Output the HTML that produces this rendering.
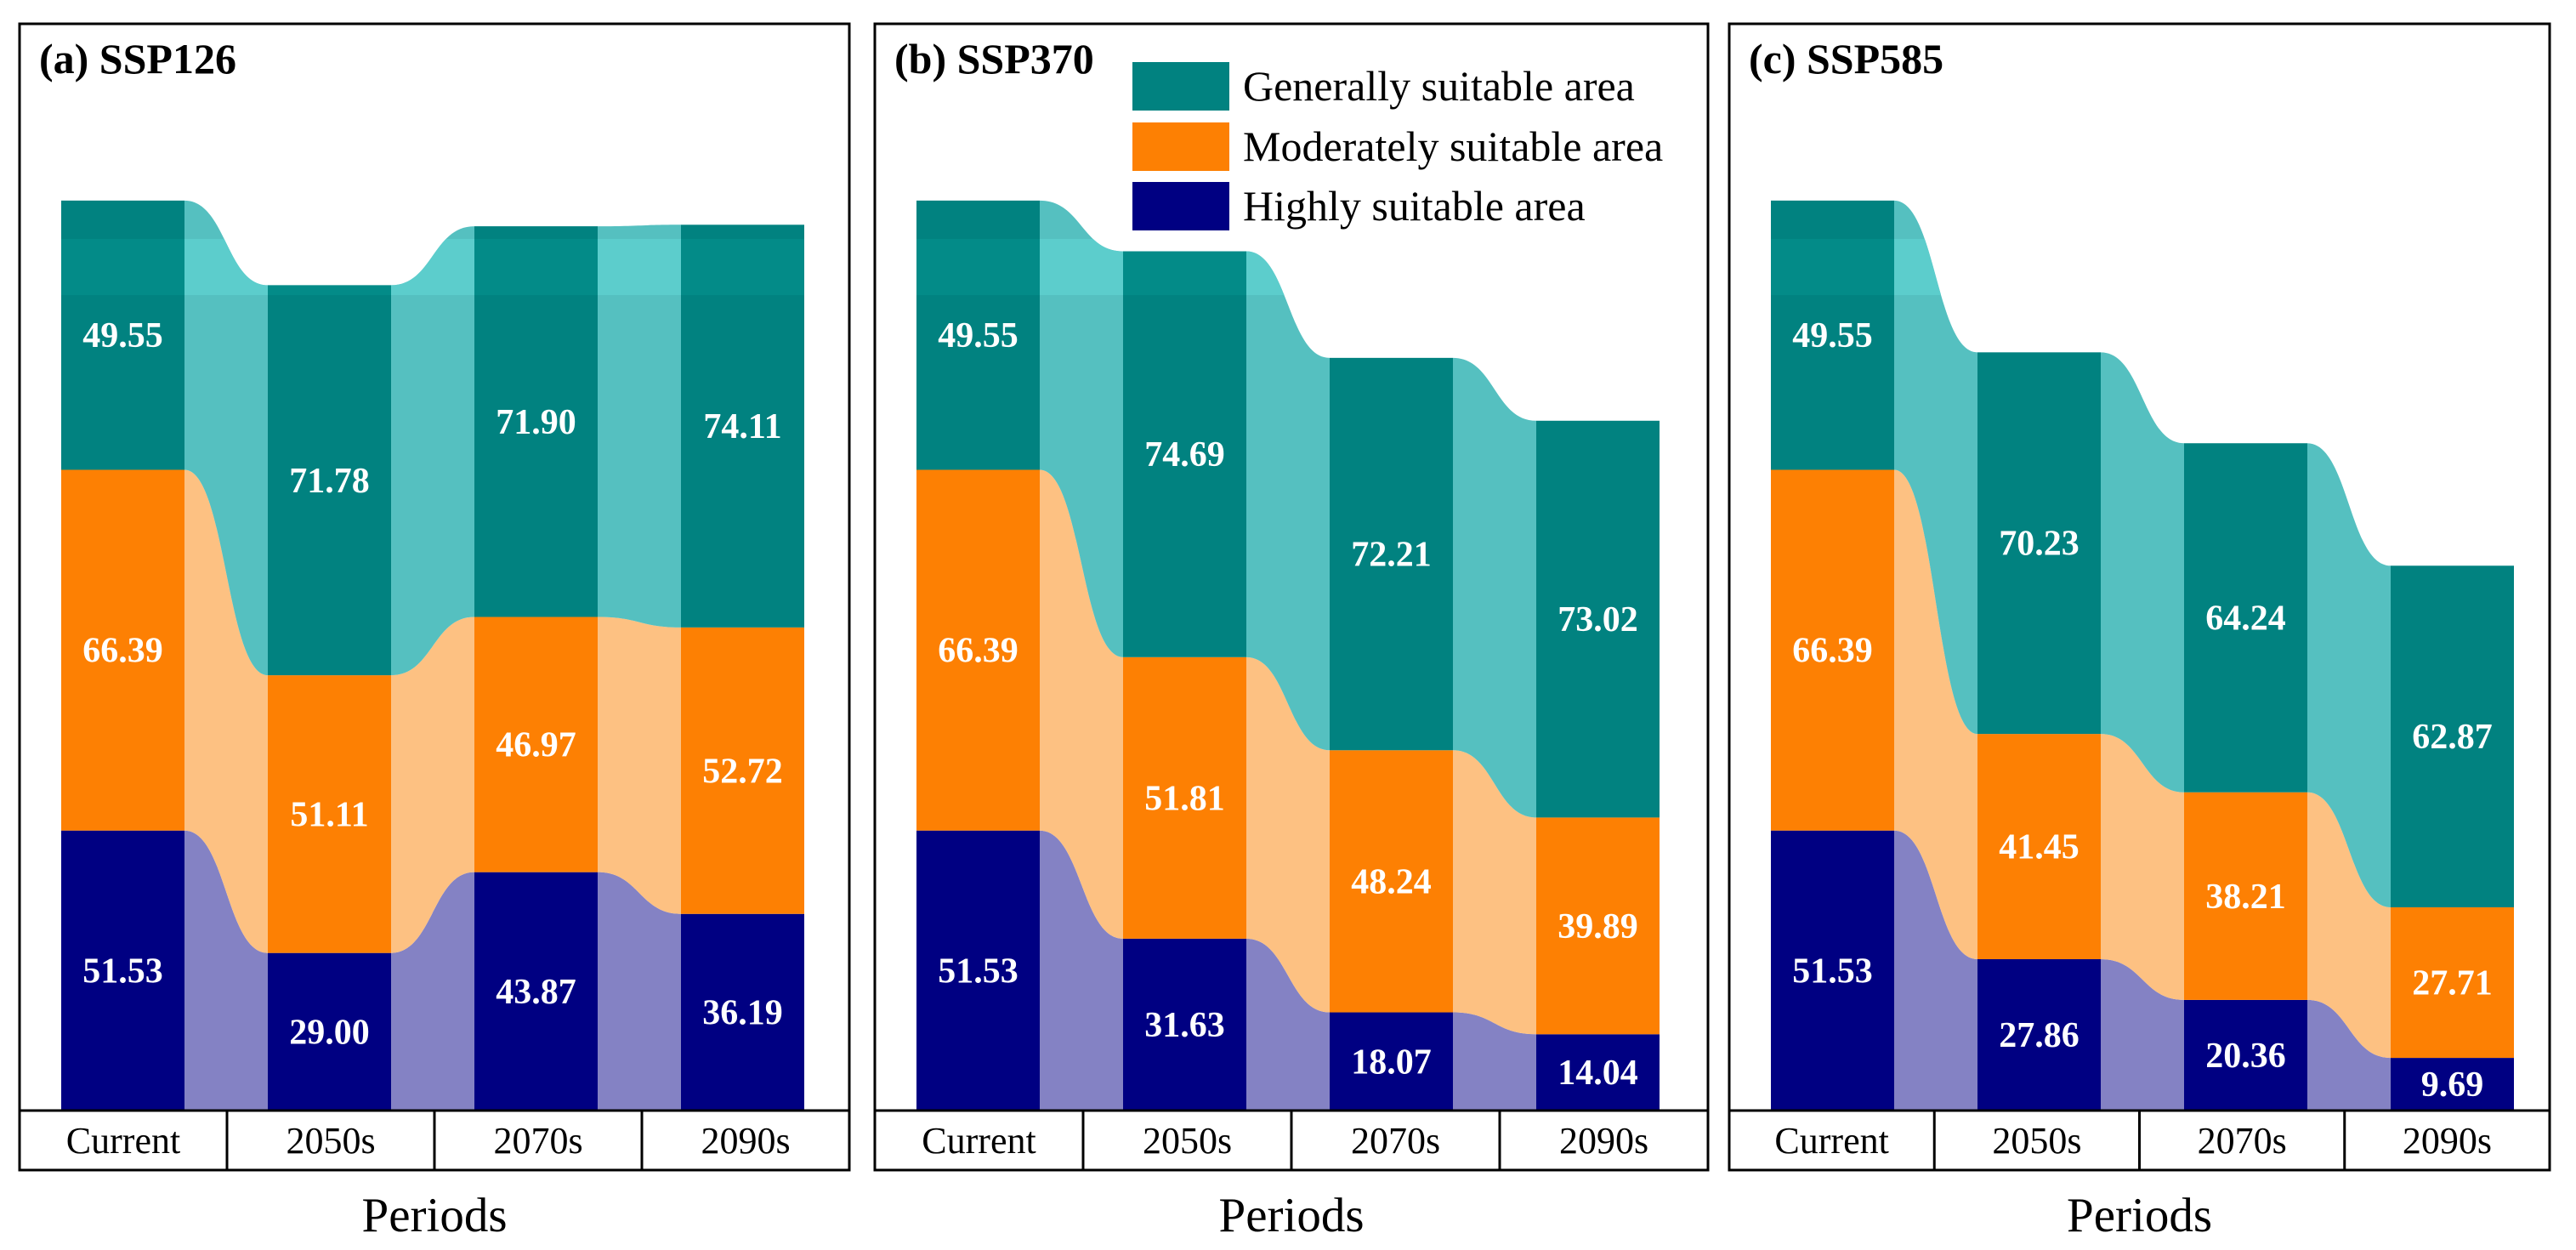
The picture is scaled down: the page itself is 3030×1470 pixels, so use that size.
<!DOCTYPE html>
<html><head><meta charset="utf-8">
<style>
html,body{margin:0;padding:0;background:#fff;}
svg{display:block;}
text{font-family:"Liberation Serif","DejaVu Serif",serif;}
</style></head>
<body>
<svg id="chart" width="3030" height="1470" viewBox="0 0 3030 1470" xmlns="http://www.w3.org/2000/svg"></svg>
<script>
const periods = ["Current","2050s","2070s","2090s"];
const panelTitles = ["(a) SSP126","(b) SSP370","(c) SSP585"];
const highA = [51.53,29.00,43.87,36.19];
const modA  = [66.39,51.11,46.97,52.72];
const genA  = [49.55,71.78,71.90,74.11];
const highB = [51.53,31.63,18.07,14.04];
const modB  = [66.39,51.81,48.24,39.89];
const genB  = [49.55,74.69,72.21,73.02];
const highC = [51.53,27.86,20.36,9.69];
const modC  = [66.39,41.45,38.21,27.71];
const genC  = [49.55,70.23,64.24,62.87];
const legendLabels = ["Generally suitable area","Moderately suitable area","Highly suitable area"];

const NS="http://www.w3.org/2000/svg";
const svg=document.getElementById('chart');
function mk(tag,attrs,parent){const e=document.createElementNS(NS,tag);for(const k in attrs)e.setAttribute(k,attrs[k]);(parent||svg).appendChild(e);return e;}

const panelLeft=[23,1029,2034];
const panelRight=[999,2009,2999];
const baseY=1306, unit=6.39;
function yScale(v){return baseY - v*unit;}
const barW=145, step=243, barOff=49;
const barCol=["#000082","#fd8003","#018280"];
const flowCol=["#8482c4","#fdc182","#55c0c0"];
const barColL=["#000082","#fd8003","#038b88"];
const flowColL=["#8482c4","#fdc182","#5ccdcc"];
const catNames=["highly","moderately","generally"];

const defs=mk('defs',{});
const cp=mk('clipPath',{id:'band'},defs);
mk('rect',{x:0,y:281,width:3030,height:66},cp);

function drawMarks(g,series,x0,bc,fc,named){
  // series: [high, mod, gen]
  const n=periods.length;
  const stacks=[];
  for(let i=0;i<n;i++){
    let acc=0;const s=[];
    for(let k=0;k<3;k++){s.push([acc,acc+series[k][i]]);acc+=series[k][i];}
    stacks.push(s);
  }
  // flows
  for(let i=0;i<n-1;i++){
    const xa=x0+i*step+barW, xb=x0+(i+1)*step, xm=(xa+xb)/2;
    for(let k=0;k<3;k++){
      const t1=yScale(stacks[i][k][1]), t2=yScale(stacks[i+1][k][1]);
      const b1=yScale(stacks[i][k][0]), b2=yScale(stacks[i+1][k][0]);
      const d=`M${xa},${t1} C${xm},${t1} ${xm},${t2} ${xb},${t2} L${xb},${b2} C${xm},${b2} ${xm},${b1} ${xa},${b1} Z`;
      const p=mk('path',{d:d,fill:fc[k]},g);
      if(named){
        
        
      }
    }
  }
  // bars
  for(let i=0;i<n;i++){
    const x=x0+i*step;
    for(let k=0;k<3;k++){
      const y1=yScale(stacks[i][k][1]), y0=yScale(stacks[i][k][0]);
      const r=mk('rect',{x:x,y:y1,width:barW,height:y0-y1,fill:bc[k]},g);
      if(named){
        
        
      }
    }
  }
  return stacks;
}

const allSeries=[[highA,modA,genA],[highB,modB,genB],[highC,modC,genC]];
allSeries.forEach((series,p)=>{
  const L=panelLeft[p], R=panelRight[p];
  const g=mk('g',{});
  
  
  const x0=L+barOff;
  const stacks=drawMarks(g,series,x0,barCol,flowCol,true);
  const gl=mk('g',{'clip-path':'url(#band)'},g);
  drawMarks(gl,series,x0,barColL,flowColL,false);
  // value labels
  for(let i=0;i<periods.length;i++){
    for(let k=0;k<3;k++){
      const yc=(yScale(stacks[i][k][0])+yScale(stacks[i][k][1]))/2;
      const t=mk('text',{x:x0+i*step+barW/2,y:yc+14,'text-anchor':'middle','font-size':42,'font-weight':'bold',fill:'#fff'},g);
      t.textContent=series[k][i].toFixed(2);
      
      
    }
  }
  // frame
  const fr=mk('rect',{x:L,y:28,width:R-L,height:1376-28,fill:'none',stroke:'#000','stroke-width':3},g);
  
  
  const tl=mk('line',{x1:L,y1:baseY,x2:R,y2:baseY,stroke:'#000','stroke-width':3},g);
  
  
  const cw=(R-L)/4;
  for(let i=1;i<4;i++){
    const dl=mk('line',{x1:L+i*cw,y1:baseY,x2:L+i*cw,y2:1376,stroke:'#000','stroke-width':3},g);
    
    
  }
  periods.forEach((pn,i)=>{
    const t=mk('text',{x:L+(i+0.5)*cw,y:1356,'text-anchor':'middle','font-size':44,fill:'#000'},g);
    t.textContent=pn;
    
    
  });
  const title=mk('text',{x:L+23,y:86,'font-size':50,'font-weight':'bold',fill:'#000'},g);
  title.textContent=panelTitles[p];
  
  
  const xt=mk('text',{x:(L+R)/2,y:1448,'text-anchor':'middle','font-size':57,fill:'#000'},g);
  xt.textContent="Periods";
  
  
});

// legend
const lg=mk('g',{});


const legCols=[barCol[2],barCol[1],barCol[0]];
const legY=[73,144,214];
legendLabels.forEach((lab,i)=>{
  const r=mk('rect',{x:1332,y:legY[i],width:114,height:57,fill:legCols[i]},lg);
  
  
  const t=mk('text',{x:1462,y:legY[i]+45,'font-size':50,fill:'#000'},lg);
  t.textContent=lab;
  
  
});
</script>
</body></html>
